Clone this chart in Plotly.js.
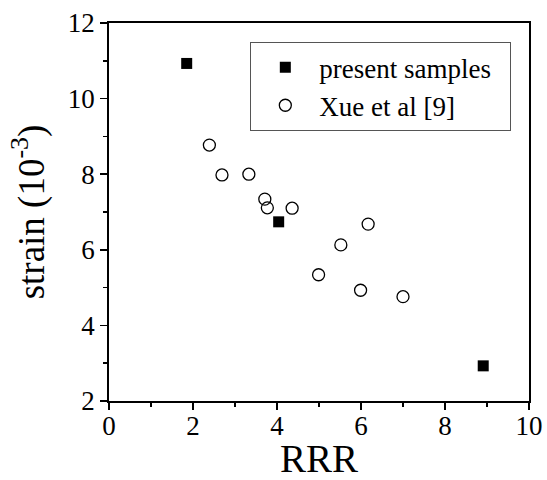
<!DOCTYPE html>
<html>
<head>
<meta charset="utf-8">
<script src="https://cdn.plot.ly/plotly-3.0.1.min.js"></script>
<style>html,body{margin:0;padding:0;background:#fff;}#chart{width:547px;height:480px;}</style>
</head>
<body>
<div id="chart"></div>
<script>
// Data
const presentRRR = [1.85, 4.04, 8.91];
const presentStrain = [10.93, 6.74, 2.93];
const xueRRR = [2.39, 2.69, 3.33, 3.71, 3.77, 4.36, 6.17, 5.52, 4.99, 5.99, 7.0];
const xueStrain = [8.77, 7.98, 8.0, 7.34, 7.11, 7.10, 6.68, 6.13, 5.34, 4.93, 4.76];
const seriesNames = ['present samples\u00a0\u00a0', 'Xue et al [9]'];
const xTicks = [0, 2, 4, 6, 8, 10];
const yTicks = [2, 4, 6, 8, 10, 12];

const FONT = '"Liberation Serif", "Times New Roman", serif';

const traces = [
  {
    x: presentRRR, y: presentStrain, name: seriesNames[0],
    type: 'scatter', mode: 'markers', legendgroup: 'a',
    marker: {symbol: 'square', size: 11, color: '#000', line: {width: 0}}
  },
  {
    x: xueRRR, y: xueStrain, name: seriesNames[1],
    type: 'scatter', mode: 'markers', legendgroup: 'b',
    marker: {symbol: 'circle-open', size: 12, color: '#000', line: {width: 1.3, color: '#000'}}
  }
];

const axisCommon = {
  showgrid: false, zeroline: false,
  showline: true, linecolor: '#000', linewidth: 1.8, mirror: true,
  ticks: 'outside', ticklen: 7, tickwidth: 1.5, tickcolor: '#000',
  tickfont: {family: FONT, size: 27, color: '#000'}
};

const layout = {
  width: 547, height: 480,
  margin: {l: 109, r: 18, t: 23, b: 79},
  paper_bgcolor: '#fff', plot_bgcolor: '#fff',
  font: {family: FONT, color: '#000'},
  showlegend: true,
  xaxis: Object.assign({}, axisCommon, {
    range: [0, 10], tickvals: xTicks, ticktext: xTicks.map(String),
    ticklabelstandoff: -7,
    minor: {dtick: 1, ticks: 'outside', ticklen: 4, tickwidth: 1.5, tickcolor: '#000'},
    title: {text: 'RRR', font: {family: FONT, size: 39, color: '#000'}, standoff: 10}
  }),
  yaxis: Object.assign({}, axisCommon, {
    range: [2, 12], tickvals: yTicks, ticktext: yTicks.map(String),
    minor: {dtick: 1, ticks: 'outside', ticklen: 4, tickwidth: 1.5, tickcolor: '#000'},
    title: {text: 'strain (10<sup>-3</sup>)', font: {family: FONT, size: 37, color: '#000'}, standoff: 12}
  }),
  legend: {
    x: 0.336, y: 0.950, xanchor: 'left', yanchor: 'top',
    bordercolor: '#555', borderwidth: 1.2, bgcolor: '#fff',
    font: {family: FONT, size: 27, color: '#000'},
    traceorder: 'grouped', tracegroupgap: 0, itemwidth: 58
  }
};

Plotly.newPlot('chart', traces, layout, {staticPlot: true, displayModeBar: false});
</script>
</body>
</html>
